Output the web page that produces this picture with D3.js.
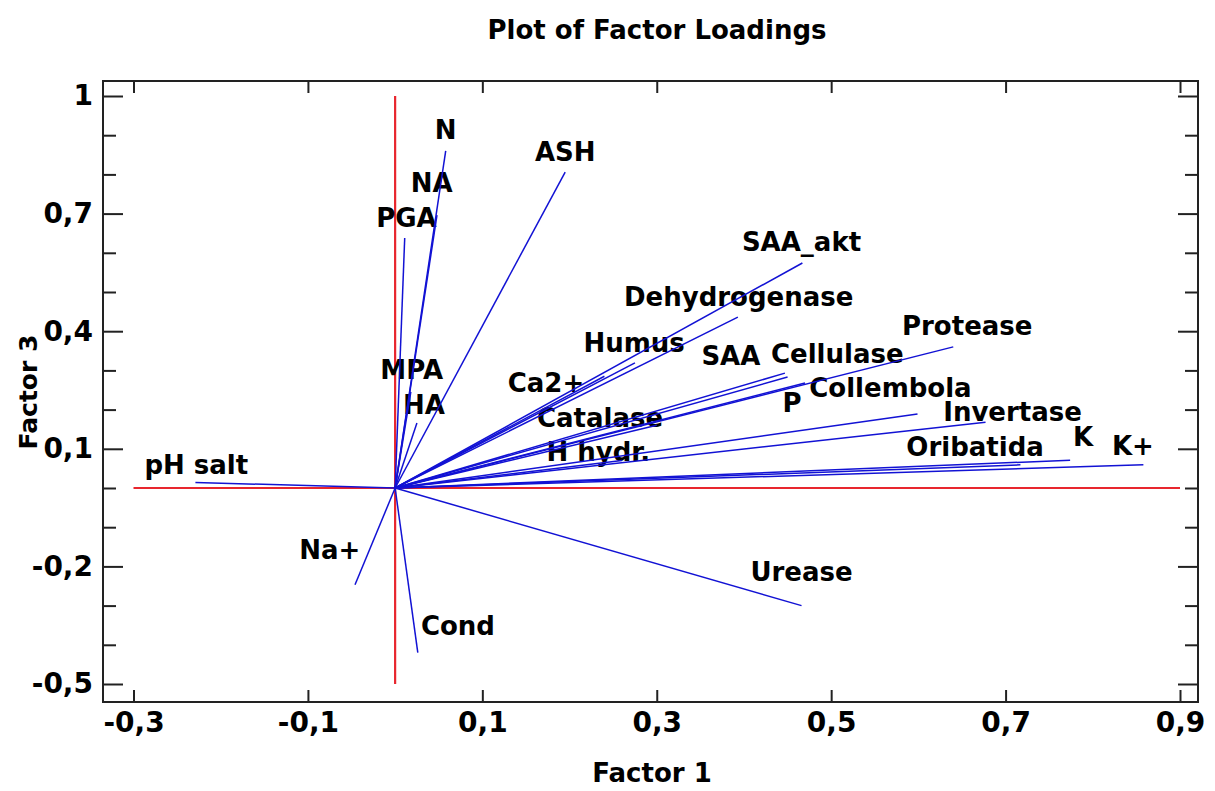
<!DOCTYPE html>
<html>
<head>
<meta charset="utf-8">
<script src="https://cdn.jsdelivr.net/npm/d3@7"></script>
<style>
  html, body { margin: 0; padding: 0; background: #ffffff; }
  svg { display: block; }
</style>
</head>
<body>
<svg id="chart" width="1215" height="791"></svg>
<script>
// ---- data ----
const variables = ["pH salt","N","NA","PGA","MPA","HA","ASH","SAA_akt","Dehydrogenase","Humus",
  "Ca2+","Catalase","H hydr.","SAA","Cellulase","Protease","P","Collembola","Invertase","Oribatida",
  "K","K+","Na+","Cond","Urease"];
const factor1 = [-0.229, 0.058, 0.048, 0.011, 0.018, 0.025, 0.195, 0.467, 0.393, 0.275,
  0.240, 0.300, 0.260, 0.447, 0.450, 0.640, 0.470, 0.599, 0.677, 0.717,
  0.774, 0.858, -0.046, 0.026, 0.466];
const factor3 = [0.014, 0.860, 0.696, 0.638, 0.245, 0.166, 0.806, 0.574, 0.436, 0.319,
  0.285, 0.160, 0.070, 0.293, 0.283, 0.360, 0.268, 0.189, 0.168, 0.059,
  0.071, 0.059, -0.247, -0.420, -0.300];
// label anchor points (in factor units), as placed in the reference
const labelFactor1 = [-0.228, 0.058, 0.042, 0.013, 0.019, 0.033, 0.195, 0.466, 0.394, 0.274,
  0.173, 0.235, 0.233, 0.385, 0.507, 0.656, 0.455, 0.568, 0.708, 0.665,
  0.789, 0.846, -0.075, 0.072, 0.466];
const labelFactor3 = [0.059, 0.913, 0.778, 0.689, 0.301, 0.212, 0.857, 0.628, 0.487, 0.370,
  0.268, 0.179, 0.092, 0.337, 0.344, 0.413, 0.217, 0.255, 0.196, 0.105,
  0.130, 0.107, -0.158, -0.352, -0.214];

const xTicks = [-0.3, -0.1, 0.1, 0.3, 0.5, 0.7, 0.9];
const yMajorTicks = [1, 0.7, 0.4, 0.1, -0.2, -0.5];
const yMinorTicks = [0.9, 0.8, 0.6, 0.5, 0.3, 0.2, 0.0, -0.1, -0.3, -0.4];
const xDomain = [-0.3, 0.9];
const yDomain = [-0.5, 1.0];

const titleText = "Plot of Factor Loadings";
const xTitle = "Factor 1";
const yTitle = "Factor 3";

// ---- layout ----
const svg = d3.select("#chart");
const frame = { left: 103, right: 1198, top: 81, bottom: 702 };
const x = d3.scaleLinear().domain(xDomain).range([133.5, 1180]);
const y = d3.scaleLinear().domain(yDomain).range([684, 96]);
const fmt = d => d3.format(".1f")(d).replace(".", ",").replace(/^1,0$/, "1").replace("−", "-");
const font = "'DejaVu Sans', Verdana, sans-serif";

// title
svg.append("text")
  .attr("x", 657).attr("y", 39)
  .attr("text-anchor", "middle")
  .attr("font-family", font).attr("font-weight", "bold").attr("font-size", 26)
  .attr("fill", "#000")
  .text(titleText);

// frame
svg.append("rect")
  .attr("x", frame.left).attr("y", frame.top)
  .attr("width", frame.right - frame.left).attr("height", frame.bottom - frame.top)
  .attr("fill", "none").attr("stroke", "#222").attr("stroke-width", 2);

// axes (ticks inward, mirrored on all sides)
const gBottom = svg.append("g").attr("transform", `translate(0,${frame.bottom})`)
  .call(d3.axisBottom(x).tickValues(xTicks).tickSize(-12).tickPadding(10).tickFormat(fmt));
const gTop = svg.append("g").attr("transform", `translate(0,${frame.top})`)
  .call(d3.axisTop(x).tickValues(xTicks).tickSize(-12).tickFormat(""));
const gLeft = svg.append("g").attr("transform", `translate(${frame.left},0)`)
  .call(d3.axisLeft(y).tickValues(yMajorTicks).tickSize(-20).tickPadding(10).tickFormat(fmt));
const gLeftMinor = svg.append("g").attr("transform", `translate(${frame.left},0)`)
  .call(d3.axisLeft(y).tickValues(yMinorTicks).tickSize(-13).tickFormat(""));
const gRight = svg.append("g").attr("transform", `translate(${frame.right},0)`)
  .call(d3.axisRight(y).tickValues(yMajorTicks).tickSize(-20).tickFormat(""));
const gRightMinor = svg.append("g").attr("transform", `translate(${frame.right},0)`)
  .call(d3.axisRight(y).tickValues(yMinorTicks).tickSize(-13).tickFormat(""));

[gBottom, gTop, gLeft, gLeftMinor, gRight, gRightMinor].forEach(g => {
  g.select(".domain").remove();
  g.selectAll(".tick line").attr("stroke", "#222").attr("stroke-width", 2);
  g.selectAll(".tick text")
    .attr("font-family", font).attr("font-weight", "bold").attr("font-size", 28)
    .attr("fill", "#000");
});

// axis titles
svg.append("text")
  .attr("x", 652).attr("y", 782)
  .attr("text-anchor", "middle")
  .attr("font-family", font).attr("font-weight", "bold").attr("font-size", 26)
  .attr("fill", "#000")
  .text(xTitle);
svg.append("text")
  .attr("transform", `translate(37,392) rotate(-90)`)
  .attr("text-anchor", "middle")
  .attr("font-family", font).attr("font-weight", "bold").attr("font-size", 25)
  .attr("fill", "#000")
  .text(yTitle);

// red reference lines through the origin
svg.append("line")
  .attr("x1", x(xDomain[0])).attr("x2", x(xDomain[1]))
  .attr("y1", y(0)).attr("y2", y(0))
  .attr("stroke", "#e8262e").attr("stroke-width", 2.2);
svg.append("line")
  .attr("x1", x(0)).attr("x2", x(0))
  .attr("y1", y(yDomain[0])).attr("y2", y(yDomain[1]))
  .attr("stroke", "#e8262e").attr("stroke-width", 2.2);

const rows = variables.map((name, i) => ({
  name, f1: factor1[i], f3: factor3[i], lx: labelFactor1[i], ly: labelFactor3[i]
}));

// labels
svg.append("g").selectAll("text").data(rows).join("text")
  .attr("x", d => x(d.lx)).attr("y", d => y(d.ly))
  .attr("dy", "0.36em")
  .attr("text-anchor", "middle")
  .attr("font-family", font).attr("font-weight", "bold").attr("font-size", 26)
  .attr("fill", "#000")
  .text(d => d.name);

// loading vectors
svg.append("g").selectAll("line").data(rows).join("line")
  .attr("x1", x(0)).attr("y1", y(0))
  .attr("x2", d => x(d.f1)).attr("y2", d => y(d.f3))
  .attr("stroke", "#1212d4").attr("stroke-width", 1.5);
</script>
</body>
</html>
